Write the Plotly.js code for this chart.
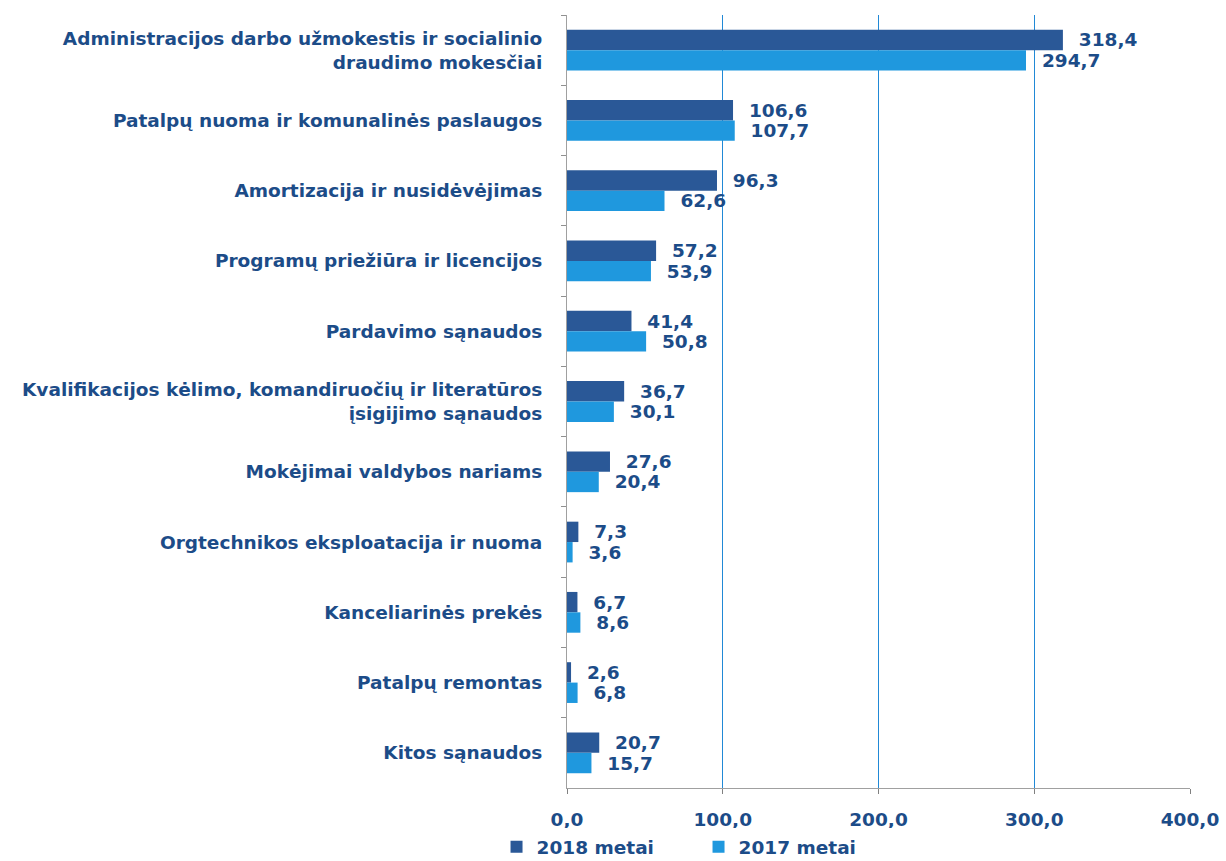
<!DOCTYPE html>
<html>
<head>
<meta charset="utf-8">
<script src="https://cdn.plot.ly/plotly-3.0.1.min.js"></script>
<style>body{margin:0;background:#fff}#chart{width:1226px;height:861px}</style>
</head>
<body>
<div id="chart"></div>
<script>
const categories = [
  'Administracijos darbo užmokestis ir socialinio<br>draudimo mokesčiai',
  'Patalpų nuoma ir komunalinės paslaugos',
  'Amortizacija ir nusidėvėjimas',
  'Programų priežiūra ir licencijos',
  'Pardavimo sąnaudos',
  'Kvalifikacijos kėlimo, komandiruočių ir literatūros<br>įsigijimo sąnaudos',
  'Mokėjimai valdybos nariams',
  'Orgtechnikos eksploatacija ir nuoma',
  'Kanceliarinės prekės',
  'Patalpų remontas',
  'Kitos sąnaudos'
];
const values2018 = [318.4, 106.6, 96.3, 57.2, 41.4, 36.7, 27.6, 7.3, 6.7, 2.6, 20.7];
const values2017 = [294.7, 107.7, 62.6, 53.9, 50.8, 30.1, 20.4, 3.6, 8.6, 6.8, 15.7];
const xTicks = [0, 100, 200, 300, 400];

const fmt = v => v.toFixed(1).replace('.', ',');
const pad = '\u00a0\u00a0';
const navy = '#1c4c88';
const fam = '"DejaVu Sans", sans-serif';
const textFont = {family: fam, size: 18.5, color: navy, weight: 'bold'};

const data = [
  {
    name: '2018 metai', type: 'bar', orientation: 'h',
    y: categories, x: values2018,
    text: values2018.map(v => pad + fmt(v)), textposition: 'outside',
    constraintext: 'none', cliponaxis: false,
    textfont: textFont,
    marker: {color: '#2a5897'}
  },
  {
    name: '2017 metai', type: 'bar', orientation: 'h',
    y: categories, x: values2017,
    text: values2017.map(v => pad + fmt(v)), textposition: 'outside',
    constraintext: 'none', cliponaxis: false,
    textfont: textFont,
    marker: {color: '#1f98de'}
  }
];

const layout = {
  width: 1226, height: 861,
  margin: {l: 567, r: 36, t: 15, b: 73},
  paper_bgcolor: '#fff', plot_bgcolor: '#fff',
  barmode: 'group', bargap: 0.42, bargroupgap: 0,
  font: {family: fam, color: navy},
  xaxis: {
    range: [0, 400], tickvals: xTicks, ticktext: xTicks.map(fmt),
    showgrid: true, gridcolor: '#2189d6', gridwidth: 1,
    zeroline: false, showline: true, linecolor: '#a0a0a0', linewidth: 1,
    ticks: 'outside', ticklen: 5, tickcolor: '#808080',
    ticklabelstandoff: 10,
    tickfont: {size: 18.5, color: navy, weight: 'bold'}
  },
  yaxis: {
    autorange: 'reversed', showline: true, linecolor: '#a0a0a0', linewidth: 1,
    ticks: 'outside', tickson: 'boundaries', ticklen: 5, tickcolor: '#909090',
    ticklabelstandoff: 20,
    tickfont: {size: 18.5, color: navy, weight: 'bold'}
  },
  legend: {
    orientation: 'h', xref: 'container', x: 0.405, xanchor: 'left',
    yref: 'container', y: 0.016, yanchor: 'middle',
    entrywidth: 157, traceorder: 'normal',
    font: {size: 18.5, color: navy, weight: 'bold'}
  },
  showlegend: true
};

Plotly.newPlot('chart', data, layout, {displayModeBar: false});
</script>
</body>
</html>
